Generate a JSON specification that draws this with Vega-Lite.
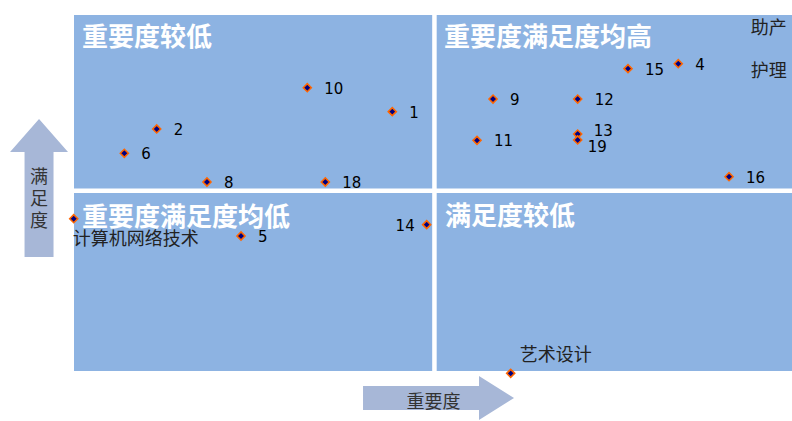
{
  "$schema": "https://vega.github.io/schema/vega-lite/v6.json",
  "autosize": "none",
  "width": 718,
  "height": 356,
  "padding": {"left": 74, "top": 15, "right": 0, "bottom": 50},
  "background": "white",
  "config": {
    "view": {"fill": "#8DB3E2", "stroke": null},
    "text": {"font": "Noto Sans CJK SC"}
  },
  "datasets": {
    "schools": [
      {"id": "1", "imp": 44.33, "sat": 72.84},
      {"id": "2", "imp": 11.52, "sat": 67.98},
      {"id": "4", "imp": 84.16, "sat": 86.32},
      {"id": "5", "imp": 23.26, "sat": 37.92},
      {"id": "6", "imp": 7.01, "sat": 61.15},
      {"id": "8", "imp": 18.52, "sat": 53.09},
      {"id": "9", "imp": 58.36, "sat": 76.4},
      {"id": "10", "imp": 32.49, "sat": 79.58},
      {"id": "11", "imp": 56.13, "sat": 64.8},
      {"id": "12", "imp": 70.15, "sat": 76.4},
      {"id": "13", "imp": 70.15, "sat": 66.57},
      {"id": "14", "imp": 49.12, "sat": 41.1},
      {"id": "15", "imp": 77.16, "sat": 84.92},
      {"id": "16", "imp": 91.23, "sat": 54.58},
      {"id": "18", "imp": 35.0, "sat": 53.09},
      {"id": "19", "imp": 70.15, "sat": 64.89}
    ],
    "majors": [
      {"name": "计算机网络技术", "imp": -0.04, "sat": 42.78},
      {"name": "艺术设计", "imp": 60.82, "sat": -0.65},
      {"name": "助产\n护理", "imp": 104, "sat": 91.08}
    ],
    "quadrants": [
      {"title": "重要度较低", "imp": 1.11, "sat": 93.5},
      {"title": "重要度满足度均高", "imp": 51.53, "sat": 93.4},
      {"title": "重要度满足度均低", "imp": 1.11, "sat": 43.1},
      {"title": "满足度较低", "imp": 51.67, "sat": 43.26}
    ],
    "dividers": [
      {"imp": 50.2, "imp2": 50.2, "sat": 0, "sat2": 100},
      {"imp": 0, "imp2": 100, "sat": 50.6, "sat2": 50.6}
    ],
    "arrows": [
      {"name": "满足度", "imp": -4.87, "sat": 51.4},
      {"name": "重要度", "imp": 50.77, "sat": -7.58}
    ]
  },
  "encoding": {
    "x": {"field": "imp", "type": "quantitative", "scale": {"domain": [0, 100]}, "axis": null},
    "y": {"field": "sat", "type": "quantitative", "scale": {"domain": [0, 100]}, "axis": null}
  },
  "layer": [
    {
      "data": {"name": "dividers"},
      "mark": {"type": "rule", "color": "white", "strokeWidth": 4.5},
      "encoding": {"x2": {"field": "imp2"}, "y2": {"field": "sat2"}}
    },
    {
      "data": {"name": "quadrants"},
      "mark": {"type": "text", "align": "left", "baseline": "middle", "fontSize": 26, "fontWeight": "bold", "color": "white"},
      "encoding": {"text": {"field": "title"}}
    },
    {
      "data": {"name": "arrows"},
      "transform": [{"filter": "datum.name == '满足度'"}],
      "mark": {"type": "point", "filled": true, "color": "#A7B7D7", "opacity": 1, "size": 19044,
        "shape": "M0,-1 L0.42,-0.522 L0.21,-0.522 L0.21,1 L-0.21,1 L-0.21,-0.522 L-0.42,-0.522 Z"}
    },
    {
      "data": {"name": "arrows"},
      "transform": [{"filter": "datum.name == '重要度'"}],
      "mark": {"type": "point", "filled": true, "color": "#A7B7D7", "opacity": 1, "size": 22801,
        "shape": "M1,0 L0.536,-0.291 L0.536,-0.159 L-1,-0.159 L-1,0.159 L0.536,0.159 L0.536,0.291 Z"}
    },
    {
      "data": {"name": "arrows"},
      "transform": [{"filter": "datum.name == '满足度'"}, {"calculate": "split(datum.name, '')", "as": "chars"}],
      "mark": {"type": "text", "align": "center", "baseline": "middle", "fontSize": 18, "lineHeight": 22, "dy": -10, "color": "#333333"},
      "encoding": {"text": {"field": "chars"}}
    },
    {
      "data": {"name": "arrows"},
      "transform": [{"filter": "datum.name == '重要度'"}],
      "mark": {"type": "text", "align": "center", "baseline": "middle", "fontSize": 18, "dx": -5, "dy": 5, "color": "#333333"},
      "encoding": {"text": {"field": "name"}}
    },
    {
      "data": {"name": "schools"},
      "mark": {"type": "point", "shape": "diamond", "filled": true, "fill": "#000080", "stroke": "#FF6600", "strokeWidth": 1.6, "size": 64, "opacity": 1}
    },
    {
      "data": {"name": "majors"},
      "transform": [{"filter": "datum.name != '助产\\n护理'"}],
      "mark": {"type": "point", "shape": "diamond", "filled": true, "fill": "#000080", "stroke": "#FF6600", "strokeWidth": 1.6, "size": 64, "opacity": 1}
    },
    {
      "data": {"name": "schools"},
      "transform": [{"filter": "datum.id != '13' && datum.id != '14' && datum.id != '19'"}],
      "mark": {"type": "text", "align": "left", "baseline": "middle", "dx": 17, "dy": 1, "font": "DejaVu Sans", "fontSize": 15, "color": "black"},
      "encoding": {"text": {"field": "id"}}
    },
    {
      "data": {"name": "schools"},
      "transform": [{"filter": "datum.id == '14'"}],
      "mark": {"type": "text", "align": "right", "baseline": "middle", "dx": -12, "dy": 1, "font": "DejaVu Sans", "fontSize": 15, "color": "black"},
      "encoding": {"text": {"field": "id"}}
    },
    {
      "data": {"name": "schools"},
      "transform": [{"filter": "datum.id == '13'"}],
      "mark": {"type": "text", "align": "left", "baseline": "middle", "dx": 16, "dy": -3, "font": "DejaVu Sans", "fontSize": 15, "color": "black"},
      "encoding": {"text": {"field": "id"}}
    },
    {
      "data": {"name": "schools"},
      "transform": [{"filter": "datum.id == '19'"}],
      "mark": {"type": "text", "align": "left", "baseline": "middle", "dx": 10, "dy": 7, "font": "DejaVu Sans", "fontSize": 15, "color": "black"},
      "encoding": {"text": {"field": "id"}}
    },
    {
      "data": {"name": "majors"},
      "transform": [{"filter": "datum.name == '计算机网络技术'"}],
      "mark": {"type": "text", "align": "left", "baseline": "middle", "dx": -1, "dy": 21, "fontSize": 18, "color": "#222222"},
      "encoding": {"text": {"field": "name"}}
    },
    {
      "data": {"name": "majors"},
      "transform": [{"filter": "datum.name == '艺术设计'"}],
      "mark": {"type": "text", "align": "left", "baseline": "middle", "dx": 9, "dy": -17, "fontSize": 18, "color": "#222222"},
      "encoding": {"text": {"field": "name"}}
    },
    {
      "data": {"name": "majors"},
      "transform": [{"filter": "datum.name == '助产\\n护理'"}],
      "mark": {"type": "text", "align": "left", "baseline": "middle", "dx": -70, "dy": -18, "lineBreak": "\n", "lineHeight": 43, "fontSize": 18, "color": "#222222"},
      "encoding": {"text": {"field": "name"}}
    }
  ]
}
